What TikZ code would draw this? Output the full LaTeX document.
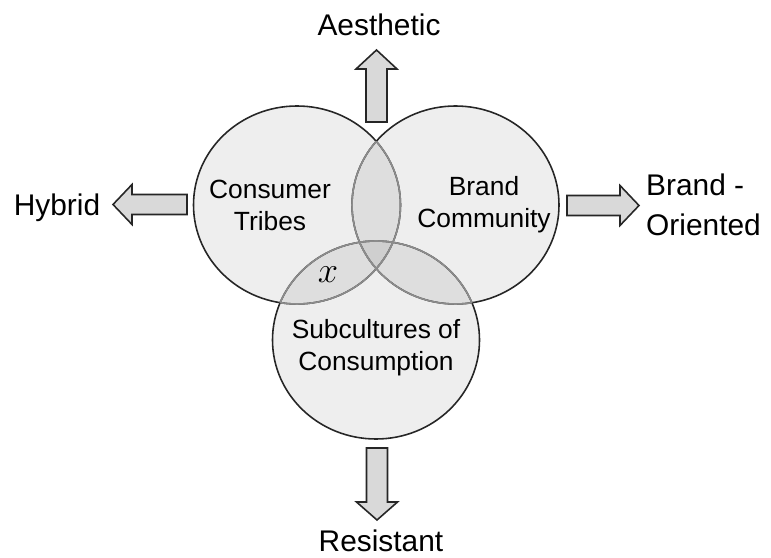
\documentclass[tikz,border=0pt]{standalone}
\usepackage{fontspec}
\setmainfont{Liberation Sans}
\usetikzlibrary{positioning}

\begin{document}
\begin{tikzpicture}[
  venn/.style={fill=black, fill opacity=.065},
  vennline/.style={draw=black!85, line width=.9pt},
  innerline/.style={draw=black!45, line width=.9pt},
  fatarrow/.style={draw=black!85, line width=.9pt, fill=black!15, line join=miter},
  circtext/.style={align=center, font=\fontsize{15}{18.2}\selectfont},
  outtext/.style={font=\fontsize{17}{22.8}\selectfont}
]
\useasboundingbox (0,0) rectangle (15.42,11.14);
%centres of the three circles
\coordinate (ct) at (5.94,7.04);
\coordinate (cb) at (9.11,7.04);
\coordinate (cs) at (7.52,4.34);
%shaded circles and outlines
\foreach \c in {ct,cb,cs}{\fill[venn] (\c) ellipse (2.07 and 1.98);}
\foreach \c in {ct,cb,cs}{\draw[vennline] (\c) ellipse (2.07 and 1.98);}
%arcs lying inside another circle are lighter
\foreach \a/\b in {ct/cb,ct/cs,cb/ct,cb/cs,cs/ct,cs/cb}{
  \begin{scope}
  \clip (\b) ellipse (2.07 and 1.98);
  \draw[innerline] (\a) ellipse (2.07 and 1.98);
  \end{scope}}
%labels inside the circles
\node[circtext] (tribes) at (5.40,7.04) {Consumer\\Tribes};
\node[circtext] (community) at (9.68,7.04) {Brand\\Community};
\node[circtext] (subcult) at (7.52,4.18) {Subcultures of\\Consumption};
\node[font=\fontsize{20}{20}\selectfont] (xmark) at (6.56,5.64) {$x$};
%block arrows
\draw[fatarrow] (7.32,8.70) -- (7.32,9.76) -- (7.12,9.76) -- (7.53,10.14) -- (7.94,9.76) -- (7.74,9.76) -- (7.74,8.70) -- cycle;
\draw[fatarrow] (7.33,2.18) -- (7.33,1.10) -- (7.13,1.10) -- (7.54,.74) -- (7.95,1.10) -- (7.75,1.10) -- (7.75,2.18) -- cycle;
\draw[fatarrow] (3.74,7.25) -- (2.64,7.25) -- (2.64,7.45) -- (2.26,7.05) -- (2.64,6.65) -- (2.64,6.85) -- (3.74,6.85) -- cycle;
\draw[fatarrow] (11.34,7.23) -- (12.40,7.23) -- (12.40,7.43) -- (12.78,7.03) -- (12.40,6.63) -- (12.40,6.83) -- (11.34,6.83) -- cycle;
%outer labels
\node[outtext] (aesthetic) at (7.58,10.64) {Aesthetic};
\node[outtext] (hybrid) at (1.14,6.98) {Hybrid};
\node[outtext, align=left, anchor=west] (brandor) at (12.80,7.04) {Brand -\\Oriented};
\node[outtext, inner sep=1pt] (resistant) at (7.62,.32) {Resistant};
\end{tikzpicture}
\end{document}
